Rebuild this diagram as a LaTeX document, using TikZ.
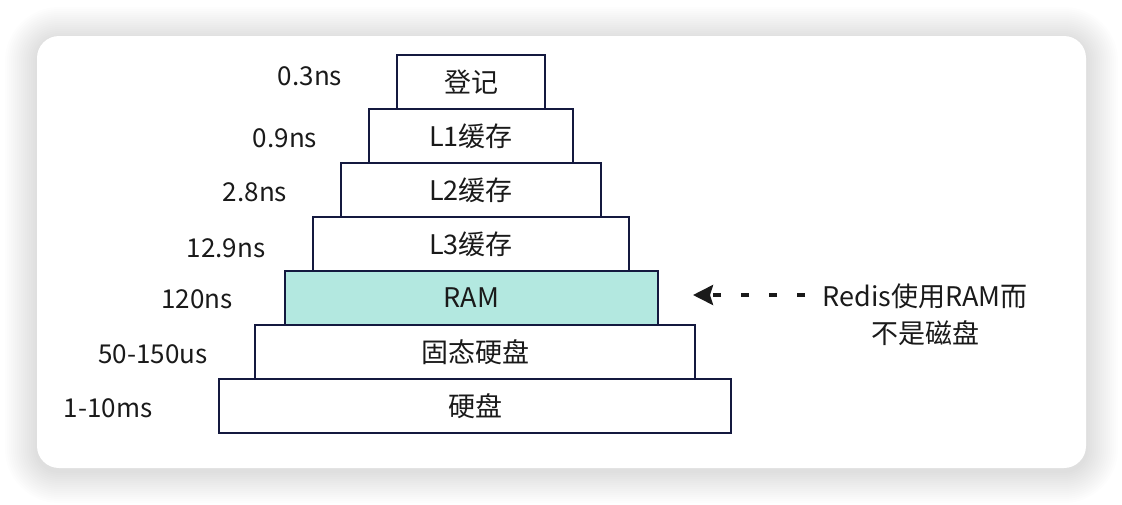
\documentclass[tikz,border=0pt]{standalone}
\usepackage{fontspec}
\setmainfont{Noto Sans CJK SC}
\usetikzlibrary{arrows.meta}
\definecolor{edge}{HTML}{14193F}
\definecolor{ramfill}{HTML}{B3E8E0}
\definecolor{ink}{HTML}{1A1A1A}
\begin{document}
\begin{tikzpicture}[x=1pt,y=-1pt,
  layer/.style={draw=edge, line width=2.2pt, fill=white, minimum height=54pt,
    inner sep=0pt, text=ink, font=\fontsize{27}{30}\selectfont},
  lat/.style={text=ink, inner sep=0pt, anchor=base, font=\fontsize{26}{30}\selectfont},
  note/.style={text=ink, inner sep=0pt, align=center, font=\fontsize{27}{37}\selectfont},
  pointer/.style={draw=ink, line width=3.5pt, dash pattern=on 8pt off 20pt,
    -{Stealth[length=20pt,width=20pt,inset=3pt]}}]
\useasboundingbox (0,0) rectangle (1122,504);
\fill[white] (0,0) rectangle (1122,504);
\foreach \i in {1,...,16}{
  \pgfmathsetmacro{\rr}{22+2*\i}
  \fill[black, opacity=0.0085, rounded corners=\rr pt]
    (37-2*\i, 36-2*\i+3) rectangle (1086+2*\i, 468+2*\i+3);
}
\fill[white, rounded corners=22pt] (37,36) rectangle (1086,468);

\node[layer, minimum width=148pt] (reg) at (471,82) {登记};
\node[layer, minimum width=204pt] (l1) at (471,136) {L1缓存};
\node[layer, minimum width=260pt] (l2) at (471,190) {L2缓存};
\node[layer, minimum width=316pt] (l3) at (471,244) {L3缓存};
\node[layer, minimum width=373pt, fill=ramfill] (ram) at (471.5,298) {RAM};
\node[layer, minimum width=440pt] (ssd) at (475,352) {固态硬盘};
\node[layer, minimum width=512pt] (hdd) at (475,406) {硬盘};

\node[lat] (t1) at (310,85) {0.3ns};
\node[lat] (t2) at (285,147) {0.9ns};
\node[lat] (t3) at (255,201) {2.8ns};
\node[lat] (t4) at (226,257) {12.9ns};
\node[lat] (t5) at (197,308) {120ns};
\node[lat] (t6) at (153,363) {50-150us};
\node[lat] (t7) at (108,417) {1-10ms};

\node[note] (nt) at (925,315) {Redis使用RAM而\\不是磁盘};
\coordinate (atail) at (805,295);
\coordinate (atip) at (693,295);
\draw[pointer] (atail) -- (atip);
\end{tikzpicture}
\end{document}
